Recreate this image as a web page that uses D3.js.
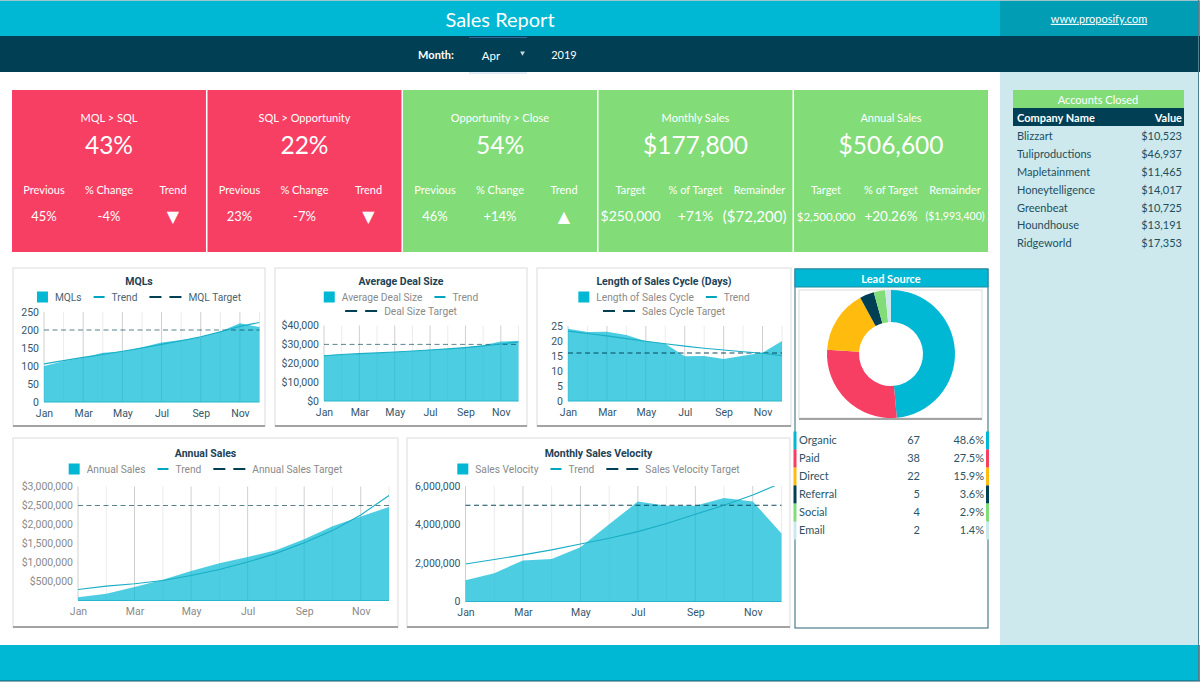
<!DOCTYPE html>
<html>
<head>
<meta charset="utf-8">
<script src="https://d3js.org/d3.v7.min.js"></script>
<style>
  body { margin: 0; background: #fff; }
  svg { display: block; }
  text { font-family: Lato, sans-serif; }
  .chart text { font-family: Roboto, sans-serif; }
</style>
</head>
<body>
<div id="dash"></div>
<script>
// DATA
const months = ["Jan", "Feb", "Mar", "Apr", "May", "Jun", "Jul", "Aug", "Sep", "Oct", "Nov", "Dec"]
const monthTicks = ["Jan", "Mar", "May", "Jul", "Sep", "Nov"]

const mqlValues = [100, 113, 123, 137, 140, 152, 165, 172, 179, 196, 219, 208]
const mqlTrend = [106, 115, 124, 132, 141, 150, 160, 170, 181, 195, 210, 221]
const mqlTicks = [0, 50, 100, 150, 200, 250]

const dealValues = [24300, 24700, 25000, 25400, 26000, 26500, 27100, 27600, 28500, 29500, 31500, 31800]
const dealTrend = [24000, 24600, 25100, 25500, 26000, 26500, 27000, 27600, 28300, 29200, 30200, 31300]
const dealTicks = [0, 10000, 20000, 30000, 40000]

const cycleValues = [24.1, 23, 23.1, 22, 19.9, 19.1, 14.9, 15, 14, 15.1, 16.1, 20]
const cycleTrend = [23.3, 22.5, 21.7, 20.8, 19.9, 19.1, 18.3, 17.6, 17, 16.4, 15.9, 15.1]
const cycleTicks = [0, 5, 10, 15, 20, 25]

const annualValues = [88000, 176000, 352000, 545000, 774000, 977000, 1144000, 1320000, 1610000, 1953000, 2208000, 2463000]
const annualTrend = [290000, 378000, 440000, 528000, 660000, 818000, 1012000, 1240000, 1522000, 1839000, 2252000, 2762000]
const annualTicks = [500000, 1000000, 1500000, 2000000, 2500000, 3000000]

const velocityValues = [1107000, 1470000, 2130000, 2210000, 2820000, 4010000, 5190000, 4980000, 4980000, 5380000, 5200000, 3530000]
const velocityTrend = [1950000, 2180000, 2420000, 2680000, 2990000, 3290000, 3630000, 4050000, 4530000, 5000000, 5530000, 6160000]
const velocityTicks = [0, 2000000, 4000000, 6000000]

const leadNames = ["Organic", "Paid", "Direct", "Referral", "Social", "Email"]
const leadCounts = [67, 38, 22, 5, 4, 2]
const leadPercents = ["48.6%", "27.5%", "15.9%", "3.6%", "2.9%", "1.4%"]

const accountNames = ["Blizzart", "Tuliproductions", "Mapletainment", "Honeytelligence", "Greenbeat", "Houndhouse", "Ridgeworld"]
const accountValues = ["$10,523", "$46,937", "$11,465", "$14,017", "$10,725", "$13,191", "$17,353"]

const kpiTitles = ["MQL > SQL", "SQL > Opportunity", "Opportunity > Close", "Monthly Sales", "Annual Sales"]
const kpiValues = ["43%", "22%", "54%", "$177,800", "$506,600"]
const kpiLabels = [
  ["Previous", "% Change", "Trend"],
  ["Previous", "% Change", "Trend"],
  ["Previous", "% Change", "Trend"],
  ["Target", "% of Target", "Remainder"],
  ["Target", "% of Target", "Remainder"],
]
const kpiSubValues = [
  ["45%", "-4%", "▼"],
  ["23%", "-7%", "▼"],
  ["46%", "+14%", "▲"],
  ["$250,000", "+71%", "($72,200)"],
  ["$2,500,000", "+20.26%", "($1,993,400)"],
]

// COLOURS
const teal = "#00b8d4"
const navy = "#003f54"
const red = "#f73e63"
const green = "#82dc78"
const pale = "#cde9ed"
const leadColors = [teal, red, "#ffbb0e", navy, green, pale]

const width = 1200
const height = 684

const svg = d3
  .select("#dash")
  .append("svg")
  .attr("width", width)
  .attr("height", height)
  .attr("viewBox", [0, 0, width, height])

function box(x, y, w, h, fill) {
  return svg.append("rect").attr("x", x).attr("y", y).attr("width", w).attr("height", h).attr("fill", fill)
}

function label(parent, x, y, str, size, fill, anchor, weight) {
  return parent
    .append("text")
    .attr("x", x)
    .attr("y", y)
    .attr("dy", "0.35em")
    .attr("text-anchor", anchor || "middle")
    .attr("font-size", size)
    .attr("font-weight", weight || 400)
    .attr("fill", fill)
    .text(str)
}

// PAGE BANDS
box(0, 0, width, 1, "#9fc4cc")
box(0, 1, width, 35, teal)
box(1000, 1, 198, 35, "#009db5")
box(0, 36, width, 36, navy)
box(1000, 72, 198, 573, pale)
box(0, 645, width, 36, teal)
box(0, 680.5, width, 1, "#1d5566")
box(1198, 0, 1, 681, "#4f8090")

label(svg, 500, 20, "Sales Report", 20, "#fff")
label(svg, 1099, 19, "www.proposify.com", 11, "#fff").attr("text-decoration", "underline")
label(svg, 436, 55.5, "Month:", 11, "#fff", "middle", 700)
label(svg, 491, 55.5, "Apr", 11.5, "#fff")
label(svg, 564, 55.5, "2019", 11, "#fff")

// month select, only its top and bottom edges show
svg.append("line").attr("x1", 469).attr("x2", 527).attr("y1", 37.5).attr("y2", 37.5).attr("stroke", "#2b6a9a")
svg.append("line").attr("x1", 469).attr("x2", 527).attr("y1", 73).attr("y2", 73).attr("stroke", "#c6d9ee")
svg
  .append("path")
  .attr("d", d3.symbol(d3.symbolTriangle, 10))
  .attr("transform", "translate(522.5,53) rotate(180)")
  .attr("fill", "#c9d8dd")

// KPI CARDS
const kpiX = d3.scaleBand().domain(d3.range(5)).range([12, 988]).paddingInner(0.008)

kpiTitles.forEach((title, i) => {
  const x0 = kpiX(i)
  const card = svg.append("g").attr("transform", `translate(${x0},90)`)
  const w = kpiX.bandwidth()
  card.append("rect").attr("width", w).attr("height", 162).attr("fill", i < 2 ? red : green)
  label(card, w / 2, 28, title, 11, "#fff")
  label(card, w / 2, 55, kpiValues[i], 24.5, "#fff")

  const cols = [w * 0.165, w / 2, w * 0.83]
  kpiLabels[i].forEach((t, j) => label(card, cols[j], 100, t, 11, "#fff"))
  kpiSubValues[i].forEach((t, j) => {
    let size = 13
    let cx = cols[j]
    if (t.length === 1) size = 16
    if (i === 3) size = 14
    if (i === 3 && j === 2) {
      size = 15
      cx = w * 0.805
    }
    if (i === 4 && j === 0) size = 11.5
    if (i === 4 && j === 1) size = 13.5
    if (i === 4 && j === 2) {
      size = 10.5
      cx = w * 0.83
    }
    const txt = label(card, cx, 126.5, t, size, "#fff")
    if (t.length === 1) txt.style("font-family", "DejaVu Sans")
  })
})

// ACCOUNTS TABLE
box(1013, 90, 171, 18, green)
box(1013, 108, 171, 18, navy)
label(svg, 1098, 100, "Accounts Closed", 11, "#fff")
label(svg, 1017, 118, "Company Name", 11, "#fff", "start", 700)
label(svg, 1182, 118, "Value", 11, "#fff", "end", 700)
const accountY = d3.scalePoint().domain(accountNames).range([136, 243.5])
accountNames.forEach((name, i) => {
  label(svg, 1017, accountY(name), name, 11, "#1d4f60", "start")
  label(svg, 1182, accountY(name), accountValues[i], 11, "#1d4f60", "end")
})

// AREA CHARTS
const charts = [
  {
    title: "MQLs",
    card: [13, 268, 252, 158],
    headOffset: 0,
    xRange: [44, 259.5],
    yRange: [402, 312],
    yMax: 250,
    values: mqlValues,
    trend: mqlTrend,
    target: 200,
    ticks: mqlTicks,
    format: d3.format("d"),
    legend: [["MQLs", "Trend", "MQL Target"]],
    axisColor: "#34566a",
    legendColor: "#4a6472",
  },
  {
    title: "Average Deal Size",
    card: [275, 268, 252, 158],
    headOffset: 0,
    xRange: [324, 518.5],
    yRange: [401, 325.5],
    yMax: 40000,
    values: dealValues,
    trend: dealTrend,
    target: 30000,
    ticks: dealTicks,
    format: d3.format("$,"),
    legend: [["Average Deal Size", "Trend"], ["Deal Size Target"]],
    axisColor: "#34566a",
    legendColor: "#8a8a8a",
  },
  {
    title: "Length of Sales Cycle (Days)",
    card: [537, 268, 254, 158],
    headOffset: 0,
    xRange: [568, 782],
    yRange: [401, 326],
    yMax: 25,
    values: cycleValues,
    trend: cycleTrend,
    target: 16,
    ticks: cycleTicks,
    format: d3.format("d"),
    legend: [["Length of Sales Cycle", "Trend"], ["Sales Cycle Target"]],
    axisColor: "#34566a",
    legendColor: "#8a8a8a",
  },
  {
    title: "Annual Sales",
    card: [13, 438, 385, 189],
    headOffset: 2,
    xRange: [78, 389],
    yRange: [600.5, 486.5],
    yMax: 3000000,
    values: annualValues,
    trend: annualTrend,
    target: 2500000,
    ticks: annualTicks,
    format: d3.format("$,"),
    legend: [["Annual Sales", "Trend", "Annual Sales Target"]],
    axisColor: "#8a8a8a",
    legendColor: "#8a8a8a",
  },
  {
    title: "Monthly Sales Velocity",
    card: [407, 438, 383, 189],
    headOffset: 2,
    xRange: [465.5, 781.5],
    yRange: [601.5, 486],
    yMax: 6000000,
    values: velocityValues,
    trend: velocityTrend,
    target: 5000000,
    ticks: velocityTicks,
    format: d3.format(","),
    legend: [["Sales Velocity", "Trend", "Sales Velocity Target"]],
    axisColor: "#34566a",
    legendColor: "#8a8a8a",
  },
]

function drawLegend(g, c) {
  const centre = c.card[0] + c.card[2] / 2
  c.legend.forEach((row, r) => {
    const y = c.card[1] + 29 + c.headOffset + r * 14
    const rowG = g.append("g")
    let cursor = 0
    row.forEach((name, k) => {
      const isFirst = r === 0 && k === 0
      const isTarget = name.includes("Target")
      const keyW = isTarget ? 32 : 11
      const item = rowG.append("g").attr("transform", `translate(${cursor},${y})`)
      if (isFirst) {
        item.append("rect").attr("y", -5.5).attr("width", 11).attr("height", 11).attr("fill", teal)
      } else {
        item
          .append("line")
          .attr("x2", keyW)
          .attr("stroke", isTarget ? navy : "#00a6c0")
          .attr("stroke-width", 2)
          .attr("stroke-dasharray", isTarget ? "12 8" : null)
      }
      const t = label(item, keyW + 7, 0, name, 10.2, c.legendColor, "start")
      cursor += keyW + 7 + t.node().getComputedTextLength() + 12
    })
    rowG.attr("transform", `translate(${centre - (cursor - 12) / 2},0)`)
  })
}

charts.forEach((c, idx) => {
  const g = svg.append("g").attr("class", "chart")
  const [cx, cy, cw, ch] = c.card

  g.append("rect").attr("x", cx).attr("y", cy).attr("width", cw).attr("height", ch).attr("fill", "#fff").attr("stroke", "#dcdcdc")
  g.append("rect").attr("x", cx).attr("y", cy + ch - 1).attr("width", cw).attr("height", 2).attr("fill", "#a3a3a3")

  label(g, cx + cw / 2, cy + 13 + c.headOffset, c.title, 10.5, "#1d4255", "middle", 700)
  drawLegend(g, c)

  const x = d3.scalePoint().domain(months).range(c.xRange)
  const y = d3.scaleLinear().domain([0, c.yMax]).range(c.yRange)

  // vertical grid, the labelled months are darker
  g.append("g")
    .selectAll("line")
    .data(months)
    .join("line")
    .attr("x1", (d) => x(d))
    .attr("x2", (d) => x(d))
    .attr("y1", y(c.yMax))
    .attr("y2", y(0))
    .attr("stroke", (d) => (monthTicks.includes(d) ? "#d0d0d0" : "#ececec"))

  const area = d3
    .area()
    .x((d, i) => x(months[i]))
    .y0(y(0))
    .y1((d) => y(d))

  g.append("path").attr("d", area(c.values)).attr("fill", teal).attr("opacity", 0.7)

  g.append("line")
    .attr("x1", c.xRange[0])
    .attr("x2", c.xRange[1])
    .attr("y1", y(0))
    .attr("y2", y(0))
    .attr("stroke", "#28b6cc")

  // target
  g.append("line")
    .attr("x1", c.xRange[0])
    .attr("x2", c.xRange[1])
    .attr("y1", y(c.target))
    .attr("y2", y(c.target))
    .attr("stroke", navy)
    .attr("stroke-opacity", idx === 2 || idx === 4 ? 0.95 : 0.65)
    .attr("stroke-dasharray", "5 3.5")

  // trend, clipped at the top of the plot
  const clipId = "clip-" + idx
  g.append("clipPath")
    .attr("id", clipId)
    .append("rect")
    .attr("x", c.xRange[0])
    .attr("y", y(c.yMax))
    .attr("width", c.xRange[1] - c.xRange[0])
    .attr("height", y(0) - y(c.yMax))

  const trendLine = d3
    .line()
    .x((d, i) => x(months[i]))
    .y((d) => y(d))

  g.append("path")
    .attr("d", trendLine(c.trend))
    .attr("clip-path", `url(#${clipId})`)
    .attr("fill", "none")
    .attr("stroke", "#19aec6")
    .attr("stroke-width", 1.1)

  // axes
  const axisX = g
    .append("g")
    .attr("transform", `translate(0,${y(0)})`)
    .call(d3.axisBottom(x).tickValues(monthTicks).tickSize(0).tickPadding(7.5))
  const axisY = g
    .append("g")
    .attr("transform", `translate(${c.xRange[0]},0)`)
    .call(d3.axisLeft(y).tickValues(c.ticks).tickFormat(c.format).tickSize(0).tickPadding(5))

  ;[axisX, axisY].forEach((a) => {
    a.select(".domain").remove()
    a.selectAll(".tick line").remove()
    a.selectAll("text").attr("font-size", 10.5).attr("fill", c.axisColor).style("font-family", "Roboto")
  })
})

// LEAD SOURCE
svg.append("rect").attr("x", 795).attr("y", 269).attr("width", 193).attr("height", 359).attr("fill", "#fff").attr("stroke", "#2b6478")
box(795, 269, 193, 18, teal).attr("stroke", "#1c8fa3")
label(svg, 891, 279, "Lead Source", 11, "#fff", "middle", 700)
box(799, 290, 183, 128, "#fff").attr("stroke", "#dcdcdc")
box(799, 418, 183, 2, "#a3a3a3")

const pie = d3.pie().sort(null)
const arc = d3.arc().innerRadius(32).outerRadius(64)
svg
  .append("g")
  .attr("transform", "translate(891,354)")
  .selectAll("path")
  .data(pie(leadCounts))
  .join("path")
  .attr("d", arc)
  .attr("fill", (d, i) => leadColors[i])

const leadY = d3.scalePoint().domain(leadNames).range([440.5, 530.5])
leadNames.forEach((name, i) => {
  box(793.5, leadY(name) - 9, 3, 18, leadColors[i])
  box(986, leadY(name) - 9, 3, 18, leadColors[i])
  label(svg, 799, leadY(name), name, 11, "#2c5566", "start")
  label(svg, 920, leadY(name), leadCounts[i], 11, "#2c5566", "end")
  label(svg, 984, leadY(name), leadPercents[i], 11, "#2c5566", "end")
})
</script>
</body>
</html>
